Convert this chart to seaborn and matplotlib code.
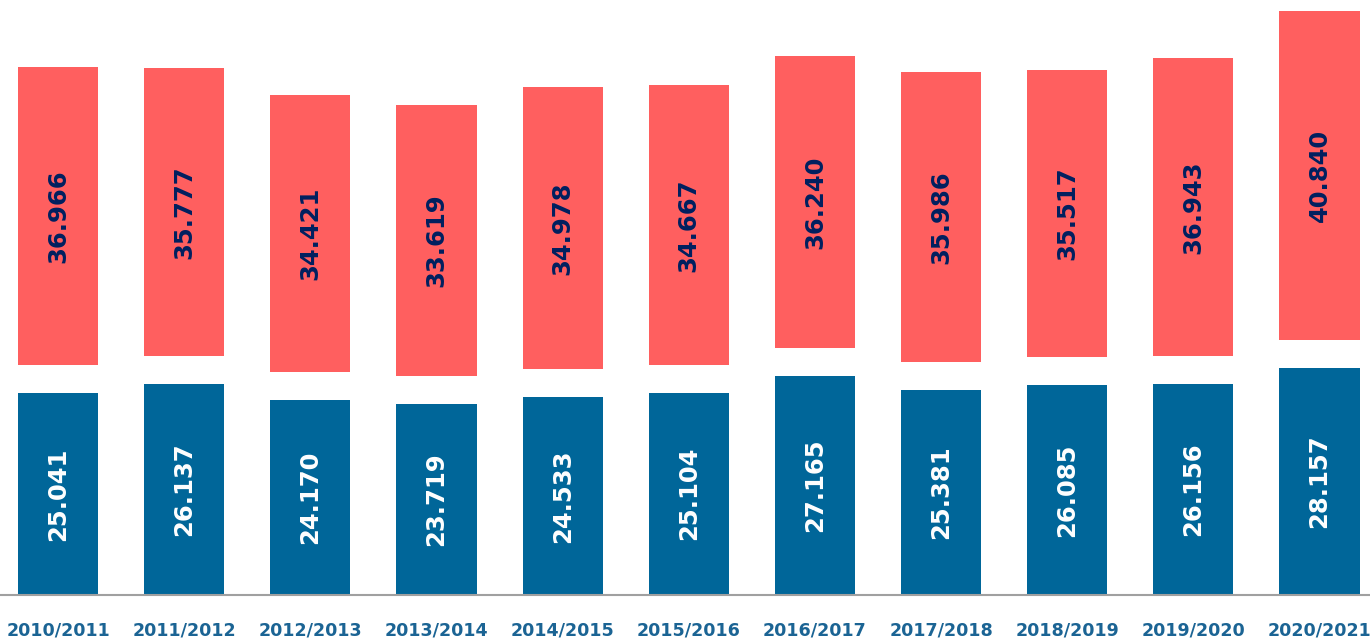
import matplotlib
matplotlib.use("Agg")
import matplotlib.pyplot as plt
import seaborn as sns
import numpy as np
import pandas as pd

# school years and the two series (values as shown, dot = thousands separator)
years = ['2010/2011', '2011/2012', '2012/2013', '2013/2014', '2014/2015', '2015/2016',
         '2016/2017', '2017/2018', '2018/2019', '2019/2020', '2020/2021']
blue_vals = [25041, 26137, 24170, 23719, 24533, 25104, 27165, 25381, 26085, 26156, 28157]
red_vals = [36966, 35777, 34421, 33619, 34978, 34667, 36240, 35986, 35517, 36943, 40840]

BLUE = '#006699'
RED = '#FF5F5F'
NAVY = '#002060'
TICK = '#1B6494'
GAP = 3470  # white space between the two segments

df = pd.DataFrame({'year': years, 'blue': blue_vals, 'red': red_vals})
df['red_bottom'] = df['blue'] + GAP

sns.set_style('white')
plt.rcParams['font.family'] = ['DejaVu Sans']

fig = plt.figure(figsize=(13.7, 6.41), dpi=100)
ax = fig.add_axes([0, 46 / 641, 1, 595 / 641])

sns.barplot(data=df, x='year', y='blue', color=BLUE, width=0.635,
            saturation=1, ax=ax, edgecolor='none')
sns.barplot(data=df, x='year', y='red', bottom=df['red_bottom'].values, color=RED,
            width=0.635, saturation=1, ax=ax, edgecolor='none')

fmt = lambda v: f'{v:,}'.replace(',', '.')
ax.bar_label(ax.containers[0], labels=[fmt(v) for v in blue_vals], label_type='center',
             rotation=90, color='white', fontsize=17.5, fontweight='bold')
ax.bar_label(ax.containers[1], labels=[fmt(v) for v in red_vals], label_type='center',
             rotation=90, color=NAVY, fontsize=17.5, fontweight='bold')

ax.set_xlim(-0.46, 10.40)
ax.set_ylim(0, 73800)
ax.set_xlabel('')
ax.set_ylabel('')
ax.set_yticks([])
ax.tick_params(axis='x', length=0, pad=19, labelsize=12.6, labelcolor=TICK)
for lbl in ax.get_xticklabels():
    lbl.set_fontweight('bold')

sns.despine(ax=ax, left=True, right=True, top=True)
ax.spines['bottom'].set_color('#A0A0A0')
ax.spines['bottom'].set_linewidth(1.5)

fig.savefig('out.png', dpi=100)
